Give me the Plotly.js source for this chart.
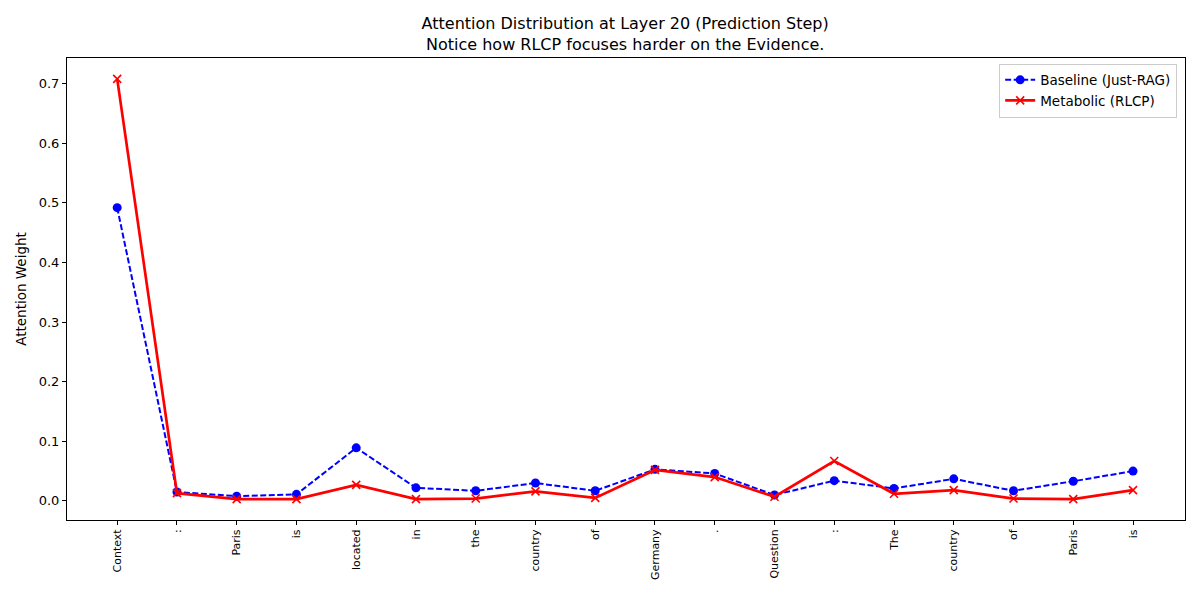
<!DOCTYPE html>
<html>
<head>
<meta charset="utf-8">
<script src="https://cdn.plot.ly/plotly-3.0.1.min.js"></script>
<style>html,body{margin:0;padding:0;background:#fff;}#chart{width:1200px;height:600px;}</style>
</head>
<body>
<div id="chart"></div>
<script>
const tokens = ["Context", ":", "Paris", "is", "located", "in", "the", "country", "of", "Germany", ".", "Question", ":", "The", "country", "of", "Paris", "is"];
const baseline = [0.492, 0.015, 0.008, 0.011, 0.089, 0.022, 0.017, 0.030, 0.017, 0.053, 0.046, 0.010, 0.034, 0.021, 0.037, 0.017, 0.033, 0.050];
const metabolic = [0.708, 0.013, 0.003, 0.003, 0.027, 0.003, 0.004, 0.016, 0.005, 0.052, 0.040, 0.007, 0.067, 0.012, 0.018, 0.004, 0.003, 0.018];
const yTicks = [0, 0.1, 0.2, 0.3, 0.4, 0.5, 0.6, 0.7];

const idx = tokens.map((_, i) => i);
const font = "DejaVu Sans, sans-serif";

const traces = [
  {
    x: idx, y: baseline, type: "scatter", mode: "lines+markers",
    name: "Baseline (Just-RAG)",
    line: {color: "#0000ff", width: 2, dash: "6px,2.5px"},
    marker: {color: "#0000ff", size: 9, symbol: "circle"}
  },
  {
    x: idx, y: metabolic, type: "scatter", mode: "lines+markers",
    name: "Metabolic (RLCP)",
    line: {color: "#ff0000", width: 2.7},
    marker: {color: "#ff0000", size: 8, symbol: "x-thin", line: {color: "#ff0000", width: 1.6}}
  }
];

const layout = {
  width: 1200, height: 600,
  margin: {l: 67, r: 15, t: 58, b: 80},
  paper_bgcolor: "#fff", plot_bgcolor: "#fff",
  font: {family: font, color: "#000", size: 12},
  title: {
    text: "Attention Distribution at Layer 20 (Prediction Step)<br>Notice how RLCP focuses harder on the Evidence.",
    font: {size: 16, family: font}, x: 0.521, xanchor: "center",
    yref: "container", y: 0.951, yanchor: "top"
  },
  xaxis: {
    range: [-0.84, 17.87], tickmode: "array", tickvals: idx, ticktext: tokens,
    tickangle: -90, tickfont: {size: 11, family: font},
    showgrid: false, zeroline: false, showline: true, linecolor: "#000", linewidth: 1,
    mirror: true, ticks: "outside", ticklen: 4, tickcolor: "#000"
  },
  yaxis: {
    range: [-0.032, 0.743], tickmode: "array", tickvals: yTicks,
    ticktext: yTicks.map(v => v.toFixed(1)),
    title: {text: "Attention Weight", font: {size: 13.5, family: font}, standoff: 8},
    showgrid: false, zeroline: false, showline: true, linecolor: "#000", linewidth: 1,
    mirror: true, ticks: "outside", ticklen: 4, tickcolor: "#000", tickfont: {size: 13, family: font}
  },
  legend: {
    x: 0.993, y: 0.988, xanchor: "right", yanchor: "top",
    bordercolor: "#ccc", borderwidth: 1, bgcolor: "rgba(255,255,255,0.8)",
    font: {size: 13.5, family: font}, tracegroupgap: 0
  },
  showlegend: true
};

Plotly.newPlot("chart", traces, layout, {displayModeBar: false, staticPlot: true});
</script>
</body>
</html>
